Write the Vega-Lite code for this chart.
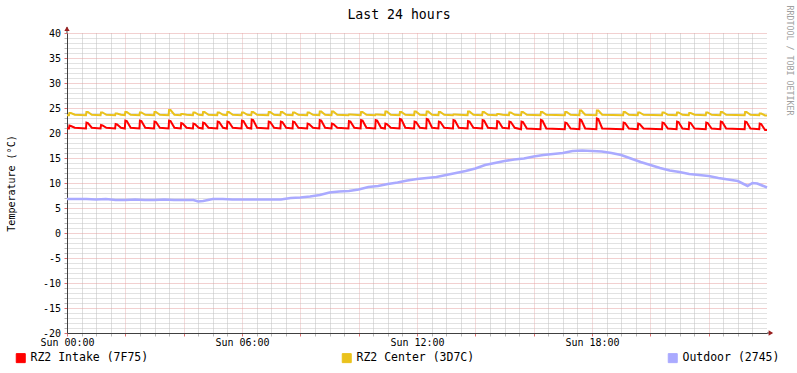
{
  "$schema": "https://vega.github.io/schema/vega-lite/v6.json",
  "width": 700,
  "height": 300,
  "autosize": {"type": "none"},
  "padding": {"left": 67, "top": 33, "right": 30, "bottom": 40},
  "background": "#ffffff",
  "datasets": {
    "rz": [
      {"t":0,"a":20.9,"b":23.55},
      {"t":4,"a":20.9,"b":23.55},{"t":5,"a":21.5,"b":24.0},{"t":8,"a":21.4,"b":24.0},{"t":16,"a":21.05,"b":23.65},
      {"t":39,"a":20.9,"b":23.55},{"t":40,"a":22.1,"b":24.2},{"t":43,"a":22.0,"b":24.2},{"t":51,"a":21.05,"b":23.65},
      {"t":69,"a":20.9,"b":23.55},{"t":70,"a":21.6,"b":24.1},{"t":73,"a":21.5,"b":24.1},{"t":81,"a":21.05,"b":23.65},
      {"t":99,"a":20.9,"b":23.55},{"t":100,"a":21.8,"b":23.9},{"t":103,"a":21.7,"b":23.9},{"t":111,"a":21.05,"b":23.65},
      {"t":119,"a":20.9,"b":23.55},{"t":120,"a":22.5,"b":24.2},{"t":123,"a":22.4,"b":24.2},{"t":131,"a":21.05,"b":23.65},
      {"t":149,"a":20.9,"b":23.55},{"t":150,"a":22.5,"b":24.1},{"t":153,"a":22.4,"b":24.1},{"t":161,"a":21.05,"b":23.65},
      {"t":179,"a":20.9,"b":23.55},{"t":180,"a":22.3,"b":24.2},{"t":183,"a":22.2,"b":24.2},{"t":191,"a":21.05,"b":23.65},
      {"t":209,"a":20.9,"b":23.55},{"t":210,"a":22.5,"b":24.6},{"t":213,"a":22.4,"b":24.6},{"t":221,"a":21.05,"b":23.65},
      {"t":234,"a":20.9,"b":23.55},{"t":235,"a":22.0,"b":23.8},{"t":238,"a":21.9,"b":23.8},{"t":246,"a":21.05,"b":23.65},
      {"t":259,"a":20.9,"b":23.55},{"t":260,"a":21.9,"b":24.1},{"t":263,"a":21.8,"b":24.1},{"t":271,"a":21.05,"b":23.65},
      {"t":279,"a":20.9,"b":23.55},{"t":280,"a":22.1,"b":24.2},{"t":283,"a":22.0,"b":24.2},{"t":291,"a":21.05,"b":23.65},
      {"t":309,"a":20.9,"b":23.55},{"t":310,"a":22.3,"b":24.1},{"t":313,"a":22.2,"b":24.1},{"t":321,"a":21.05,"b":23.65},
      {"t":329,"a":20.9,"b":23.55},{"t":330,"a":22.3,"b":24.2},{"t":333,"a":22.2,"b":24.2},{"t":341,"a":21.05,"b":23.65},
      {"t":359,"a":20.9,"b":23.55},{"t":360,"a":22.5,"b":24.1},{"t":363,"a":22.4,"b":24.1},{"t":371,"a":21.05,"b":23.65},
      {"t":379,"a":20.9,"b":23.55},{"t":380,"a":22.7,"b":24.2},{"t":383,"a":22.6,"b":24.2},{"t":391,"a":21.05,"b":23.65},
      {"t":414,"a":20.9,"b":23.55},{"t":415,"a":22.3,"b":24.2},{"t":418,"a":22.2,"b":24.2},{"t":426,"a":21.05,"b":23.65},
      {"t":439,"a":20.9,"b":23.55},{"t":440,"a":22.3,"b":24.2},{"t":443,"a":22.2,"b":24.2},{"t":451,"a":21.05,"b":23.65},
      {"t":464,"a":20.9,"b":23.55},{"t":465,"a":22.3,"b":24.1},{"t":468,"a":22.2,"b":24.1},{"t":476,"a":21.05,"b":23.65},
      {"t":494,"a":20.9,"b":23.55},{"t":495,"a":21.9,"b":24.1},{"t":498,"a":21.8,"b":24.1},{"t":506,"a":21.05,"b":23.65},
      {"t":519,"a":20.9,"b":23.55},{"t":520,"a":22.6,"b":24.3},{"t":523,"a":22.5,"b":24.3},{"t":531,"a":21.05,"b":23.65},
      {"t":544,"a":20.9,"b":23.55},{"t":545,"a":21.9,"b":24.3},{"t":548,"a":21.8,"b":24.3},{"t":556,"a":21.05,"b":23.65},
      {"t":579,"a":20.9,"b":23.55},{"t":580,"a":22.4,"b":23.7},{"t":583,"a":22.3,"b":23.7},{"t":591,"a":21.05,"b":23.65},
      {"t":604,"a":20.9,"b":23.55},{"t":605,"a":22.6,"b":24.2},{"t":608,"a":22.5,"b":24.2},{"t":616,"a":21.05,"b":23.65},
      {"t":634,"a":20.9,"b":23.55},{"t":635,"a":22.6,"b":23.7},{"t":638,"a":22.5,"b":23.7},{"t":646,"a":21.05,"b":23.65},
      {"t":654,"a":20.9,"b":23.55},{"t":655,"a":21.9,"b":24.3},{"t":658,"a":21.8,"b":24.3},{"t":666,"a":21.05,"b":23.65},
      {"t":684,"a":20.9,"b":23.55},{"t":685,"a":22.8,"b":24.2},{"t":688,"a":22.7,"b":24.2},{"t":696,"a":21.05,"b":23.65},
      {"t":714,"a":20.9,"b":23.55},{"t":715,"a":22.3,"b":24.3},{"t":718,"a":22.2,"b":24.3},{"t":726,"a":21.05,"b":23.65},
      {"t":739,"a":20.9,"b":23.55},{"t":740,"a":22.8,"b":24.3},{"t":743,"a":22.7,"b":24.3},{"t":751,"a":21.05,"b":23.65},
      {"t":764,"a":20.9,"b":23.55},{"t":765,"a":22.3,"b":24.2},{"t":768,"a":22.2,"b":24.2},{"t":776,"a":21.05,"b":23.65},
      {"t":794,"a":20.9,"b":23.55},{"t":795,"a":22.6,"b":23.7},{"t":798,"a":22.5,"b":23.7},{"t":806,"a":21.05,"b":23.65},
      {"t":824,"a":20.9,"b":23.55},{"t":825,"a":22.4,"b":24.3},{"t":828,"a":22.3,"b":24.3},{"t":836,"a":21.05,"b":23.65},
      {"t":854,"a":20.9,"b":23.55},{"t":855,"a":22.6,"b":24.2},{"t":858,"a":22.5,"b":24.2},{"t":866,"a":21.05,"b":23.65},
      {"t":884,"a":20.9,"b":23.55},{"t":885,"a":22.4,"b":23.8},{"t":888,"a":22.3,"b":23.8},{"t":896,"a":21.05,"b":23.65},
      {"t":909,"a":20.9,"b":23.55},{"t":910,"a":22.3,"b":24.1},{"t":913,"a":22.2,"b":24.1},{"t":921,"a":21.05,"b":23.65},
      {"t":934,"a":20.75,"b":23.55},{"t":935,"a":22.3,"b":24.2},{"t":938,"a":22.2,"b":24.2},{"t":946,"a":20.9,"b":23.65},
      {"t":974,"a":20.75,"b":23.55},{"t":975,"a":22.6,"b":24.2},{"t":978,"a":22.5,"b":24.2},{"t":986,"a":20.9,"b":23.65},
      {"t":1024,"a":20.75,"b":23.55},{"t":1025,"a":22.1,"b":24.2},{"t":1028,"a":22.0,"b":24.2},{"t":1036,"a":20.9,"b":23.65},
      {"t":1054,"a":20.75,"b":23.55},{"t":1055,"a":22.7,"b":24.5},{"t":1058,"a":22.6,"b":24.5},{"t":1066,"a":20.9,"b":23.65},
      {"t":1089,"a":20.75,"b":23.55},{"t":1090,"a":22.9,"b":24.5},{"t":1093,"a":22.8,"b":24.5},{"t":1101,"a":20.9,"b":23.65},
      {"t":1144,"a":20.75,"b":23.55},{"t":1145,"a":22.1,"b":24.2},{"t":1148,"a":22.0,"b":24.2},{"t":1156,"a":20.9,"b":23.65},
      {"t":1174,"a":20.75,"b":23.55},{"t":1175,"a":21.9,"b":24.1},{"t":1178,"a":21.8,"b":24.1},{"t":1186,"a":20.9,"b":23.65},
      {"t":1224,"a":20.75,"b":23.55},{"t":1225,"a":22.1,"b":24.1},{"t":1228,"a":22.0,"b":24.1},{"t":1236,"a":20.9,"b":23.65},
      {"t":1254,"a":20.75,"b":23.55},{"t":1255,"a":22.3,"b":24.1},{"t":1258,"a":22.2,"b":24.1},{"t":1266,"a":20.9,"b":23.65},
      {"t":1279,"a":20.75,"b":23.55},{"t":1280,"a":22.1,"b":24.0},{"t":1283,"a":22.0,"b":24.0},{"t":1291,"a":20.9,"b":23.65},
      {"t":1314,"a":20.75,"b":23.55},{"t":1315,"a":22.1,"b":24.1},{"t":1318,"a":22.0,"b":24.1},{"t":1326,"a":20.9,"b":23.65},
      {"t":1344,"a":20.75,"b":23.55},{"t":1345,"a":22.3,"b":24.2},{"t":1348,"a":22.2,"b":24.2},{"t":1356,"a":20.9,"b":23.65},
      {"t":1394,"a":20.75,"b":23.55},{"t":1395,"a":22.3,"b":24.2},{"t":1398,"a":22.2,"b":24.2},{"t":1406,"a":20.9,"b":23.65},
      {"t":1424,"a":20.75,"b":23.55},{"t":1425,"a":21.9,"b":23.9},{"t":1428,"a":21.8,"b":23.9},{"t":1436,"a":20.6,"b":23.5},
      {"t":1440,"a":20.6,"b":23.5}
    ],
    "od": [
      {"t":0,"v":6.8},{"t":20,"v":6.8},{"t":40,"v":6.8},{"t":60,"v":6.7},{"t":80,"v":6.8},{"t":100,"v":6.6},
      {"t":120,"v":6.6},{"t":140,"v":6.7},{"t":160,"v":6.6},{"t":180,"v":6.6},{"t":200,"v":6.7},{"t":220,"v":6.6},
      {"t":240,"v":6.6},{"t":260,"v":6.6},{"t":270,"v":6.3},{"t":280,"v":6.4},{"t":300,"v":6.8},{"t":320,"v":6.8},
      {"t":340,"v":6.7},{"t":360,"v":6.7},{"t":380,"v":6.7},{"t":400,"v":6.7},{"t":420,"v":6.7},{"t":440,"v":6.7},
      {"t":460,"v":7.0},{"t":480,"v":7.1},{"t":500,"v":7.3},{"t":520,"v":7.6},{"t":540,"v":8.1},{"t":560,"v":8.3},
      {"t":580,"v":8.4},{"t":600,"v":8.7},{"t":620,"v":9.2},{"t":640,"v":9.4},{"t":660,"v":9.8},{"t":680,"v":10.1},
      {"t":700,"v":10.5},{"t":720,"v":10.8},{"t":740,"v":11.0},{"t":760,"v":11.2},{"t":780,"v":11.6},{"t":800,"v":12.0},
      {"t":820,"v":12.4},{"t":840,"v":12.9},{"t":860,"v":13.6},{"t":880,"v":14.0},{"t":900,"v":14.4},{"t":920,"v":14.7},
      {"t":940,"v":14.9},{"t":960,"v":15.3},{"t":980,"v":15.6},{"t":1000,"v":15.8},{"t":1020,"v":16.0},{"t":1040,"v":16.4},
      {"t":1060,"v":16.5},{"t":1080,"v":16.4},{"t":1100,"v":16.3},{"t":1120,"v":16.0},{"t":1140,"v":15.6},{"t":1160,"v":14.9},
      {"t":1180,"v":14.2},{"t":1200,"v":13.6},{"t":1220,"v":13.0},{"t":1240,"v":12.5},{"t":1260,"v":12.2},{"t":1280,"v":11.8},
      {"t":1300,"v":11.6},{"t":1320,"v":11.4},{"t":1340,"v":11.0},{"t":1360,"v":10.7},{"t":1380,"v":10.4},{"t":1400,"v":9.4},
      {"t":1410,"v":10.0},{"t":1420,"v":9.9},{"t":1440,"v":9.1}
    ]
  },
  "layer": [
    {
      "data": {"name": "rz"},
      "transform": [{"fold": ["a", "b"], "as": ["s", "v"]}],
      "mark": {"type": "line", "strokeWidth": 2, "interpolate": "linear"},
      "encoding": {
        "x": {
          "field": "t", "type": "quantitative", "title": null,
          "scale": {"domain": [0, 1440], "nice": false, "zero": false},
          "axis": {
            "values": [0,30,60,90,120,150,180,210,240,270,300,330,360,390,420,450,480,510,540,570,600,630,660,690,720,750,780,810,840,870,900,930,960,990,1020,1050,1080,1110,1140,1170,1200,1230,1260,1290,1320,1350,1380,1410],
            "labelExpr": "datum.value % 360 === 0 ? 'Sun ' + (datum.value < 600 ? '0' : '') + (datum.value / 60) + ':00' : ''",
            "labelOverlap": false, "labelFlush": false, "labelBound": false,
            "grid": true,
            "gridColor": {"condition": {"test": "datum.value % 120 === 0", "value": "#ebb4b4"}, "value": "#bcbcbc"},
            "gridDash": [1, 1],
            "tickSize": 3,
            "tickColor": {"condition": {"test": "datum.value % 120 === 0", "value": "#e07070"}, "value": "#b8b8b8"},
            "domainColor": "#404040",
            "labelPadding": 1
          }
        },
        "y": {
          "field": "v", "type": "quantitative",
          "scale": {"domain": [-20, 40], "nice": false, "zero": false},
          "axis": {
            "values": [-20,-19,-18,-17,-16,-15,-14,-13,-12,-11,-10,-9,-8,-7,-6,-5,-4,-3,-2,-1,0,1,2,3,4,5,6,7,8,9,10,11,12,13,14,15,16,17,18,19,20,21,22,23,24,25,26,27,28,29,30,31,32,33,34,35,36,37,38,39,40],
            "labelExpr": "datum.value % 5 === 0 ? '' + datum.value : ''",
            "labelOverlap": false, "labelFlush": false, "labelBound": false,
            "grid": true,
            "gridColor": {"condition": {"test": "datum.value % 5 === 0", "value": "#e4a0a0"}, "value": "#c4c4c4"},
            "gridDash": [1, 1],
            "tickSize": 3,
            "tickColor": {"condition": {"test": "datum.value % 5 === 0", "value": "#e07070"}, "value": "#b8b8b8"},
            "domainColor": "#404040",
            "labelPadding": 3.5,
            "title": "Temperature (°C)",
            "titlePadding": 26
          }
        },
        "color": {
          "field": "s", "type": "nominal",
          "scale": {"domain": ["a", "b", "o"], "range": ["#ff0000", "#eac21c", "#aaaaff"]},
          "legend": {
            "orient": "none", "legendX": -52, "legendY": 319,
            "direction": "horizontal", "columns": 3, "gridAlign": "all", "columnPadding": 191,
            "padding": 0, "title": null,
            "symbolType": "square", "symbolSize": 81, "symbolStrokeWidth": 1,
            "labelFont": "DejaVu Sans Mono", "labelFontSize": 11.5, "labelColor": "#000000", "labelOffset": 4, "labelLimit": 300,
            "labelExpr": "datum.label === 'a' ? 'RZ2 Intake (7F75)' : datum.label === 'b' ? 'RZ2 Center (3D7C)' : 'Outdoor (2745)'",
            "encode": {"symbols": {"update": {"fill": {"scale": "color", "field": "value"}, "stroke": {"value": "#000000"}, "strokeWidth": {"value": 1}, "opacity": {"value": 1}, "fillOpacity": {"value": 1}}}}
          }
        }
      }
    },
    {
      "data": {"name": "od"},
      "mark": {"type": "line", "strokeWidth": 2.6, "interpolate": "linear"},
      "encoding": {
        "x": {
          "field": "t", "type": "quantitative",
          "scale": {"domain": [0, 1440], "nice": false, "zero": false},
          "axis": {
            "orient": "top", "labels": false, "ticks": false, "domain": false, "grid": false,
            "title": "Last 24 hours", "titleFont": "DejaVu Sans Mono", "titleFontSize": 13.2,
            "titleFontWeight": "normal", "titleColor": "#000000", "titleAlign": "center",
            "titleBaseline": "alphabetic", "titleX": 331.5, "titleY": -14.5, "titleAngle": 0
          }
        },
        "y": {
          "field": "v", "type": "quantitative",
          "scale": {"domain": [-20, 40], "nice": false, "zero": false},
          "axis": {
            "orient": "right", "labels": false, "ticks": false, "domain": false, "grid": false,
            "title": "RRDTOOL / TOBI OETIKER", "titleFont": "DejaVu Sans Mono", "titleFontSize": 8.3,
            "titleFontWeight": "normal", "titleColor": "#a0a0a0", "titleAngle": 90, "titleAlign": "left",
            "titleBaseline": "middle", "titleX": 21, "titleY": -28
          }
        },
        "color": {"datum": "o", "type": "nominal", "scale": {"domain": ["a", "b", "o"], "range": ["#ff0000", "#eac21c", "#aaaaff"]}, "legend": null}
      }
    },
    {
      "data": {"values": [{}]},
      "mark": {"type": "rule", "color": "#404040", "strokeWidth": 1},
      "encoding": {
        "x": {"datum": 0, "type": "quantitative", "scale": {"domain": [0, 1440], "nice": false, "zero": false}, "axis": null},
        "y": {"datum": 40, "type": "quantitative", "scale": {"domain": [-20, 40], "nice": false, "zero": false}, "axis": null},
        "y2": {"datum": 41.2}
      }
    },
    {
      "data": {"values": [{}]},
      "mark": {"type": "rule", "color": "#404040", "strokeWidth": 1},
      "encoding": {
        "x": {"datum": 1440, "type": "quantitative", "scale": {"domain": [0, 1440], "nice": false, "zero": false}, "axis": null},
        "x2": {"datum": 1450},
        "y": {"datum": -20, "type": "quantitative", "scale": {"domain": [-20, 40], "nice": false, "zero": false}, "axis": null}
      }
    },
    {
      "data": {"values": [{}]},
      "mark": {"type": "point", "shape": "triangle-up", "filled": true, "size": 28, "color": "#9a1f1f", "opacity": 1},
      "encoding": {
        "x": {"datum": 0, "type": "quantitative", "scale": {"domain": [0, 1440], "nice": false, "zero": false}, "axis": null},
        "y": {"datum": 40.85, "type": "quantitative", "scale": {"domain": [-20, 40], "nice": false, "zero": false}, "axis": null}
      }
    },
    {
      "data": {"values": [{}]},
      "mark": {"type": "point", "shape": "triangle-right", "filled": true, "size": 28, "color": "#9a1f1f", "opacity": 1},
      "encoding": {
        "x": {"datum": 1448, "type": "quantitative", "scale": {"domain": [0, 1440], "nice": false, "zero": false}, "axis": null},
        "y": {"datum": -20, "type": "quantitative", "scale": {"domain": [-20, 40], "nice": false, "zero": false}, "axis": null}
      }
    }
  ],
  "resolve": {"axis": {"x": "independent", "y": "independent"}},
  "config": {
    "view": {"stroke": null},
    "font": "DejaVu Sans Mono",
    "axis": {
      "labelFont": "DejaVu Sans Mono", "labelFontSize": 10, "labelColor": "#000000",
      "titleFont": "DejaVu Sans Mono", "titleFontSize": 10, "titleFontWeight": "normal", "titleColor": "#000000",
      "domainWidth": 1
    }
  }
}
